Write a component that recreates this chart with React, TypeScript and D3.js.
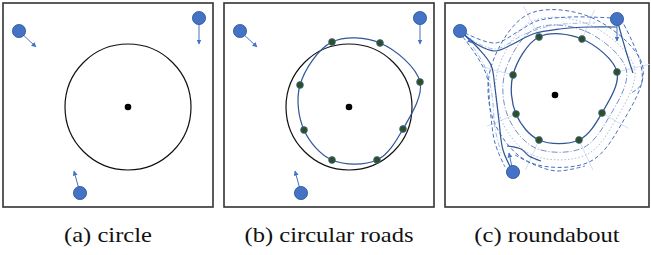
import React from "react";
import * as d3 from "d3";

type Pt = [number, number];

// panel layout (pixels of each framed sub-figure)
const panelLeft = [3, 224, 445];
const panelWidth = [210, 210, 204];
const captions = ["(a) circle", "(b) circular roads", "(c) roundabout"];

// local coordinates inside each frame (0..210 x 0..204)
const agentsAB: Pt[] = [[16, 28], [196, 15], [77, 190]];
const headingsAB: Pt[] = [[33, 44], [196, 41], [71, 168]];
const circleCenter: Pt = [125, 104];
const circleRadius = 63;

const roadNodesB: Pt[] = [
  [108, 39], [156, 40], [196, 79], [179, 126], [153, 157], [108, 157], [80, 127], [76, 82],
];

const centerC: Pt = [110, 92];
const roadNodesC: Pt[] = [
  [94, 34], [137, 36], [172, 69], [157, 110], [134, 137], [94, 137], [71, 111], [68, 72],
];
const agentsC: Pt[] = [[15, 28], [172, 16], [68, 169]];
const headingsC: Pt[] = [[27, 40], [172, 38], [64, 150]];

// roads joining the agents to the ring in (c)
const roadsSolidC: Pt[][] = [
  [[15, 28], [33, 42], [50, 48], [68, 41], [88, 31], [115, 26], [145, 24], [172, 24]],
  [[15, 28], [33, 45], [46, 62], [50, 85], [54, 118], [58, 147], [68, 169]],
  [[172, 16], [178, 38], [184, 58], [188, 70]],
  [[62, 143], [76, 146], [84, 153], [96, 158]],
];
const roadsDashedC: Pt[][] = [
  [[20, 30], [50, 40], [74, 28], [92, 18], [125, 14], [168, 15]],
  [[18, 34], [33, 55], [42, 74], [45, 105], [50, 140], [60, 164]],
  [[176, 16], [187, 38], [196, 62], [196, 82], [186, 90]],
  [[70, 152], [90, 162], [112, 168], [140, 163]],
];
const roadsDotDashC: Pt[][] = [
  [[25, 36], [50, 46], [80, 31], [110, 22], [150, 20]],
  [[28, 44], [40, 64], [47, 92], [50, 125], [56, 150]],
];
// lane offsets around the ring in (c)
const laneOffsets = [8, 15, 22];
const laneDash = ["6 2 1 2", "1.5 2", "4 2.5"];
const laneColor = ["#6f8fcf", "#a8bde3", "#4a6fb8"];

const BLUE = "#4472C4";
const BLUE_DARK = "#2F5597";
const GREEN = "#2f4f23";

// offset a clockwise closed polygon outward by d (miter at the vertices)
function offsetRing(pts: Pt[], d: number): Pt[] {
  const n = pts.length;
  const normal = (a: Pt, b: Pt): Pt => {
    const dx = b[0] - a[0];
    const dy = b[1] - a[1];
    const l = Math.hypot(dx, dy);
    return [dy / l, -dx / l];
  };
  return pts.map((p, k) => {
    const n1 = normal(pts[(k - 1 + n) % n], p);
    const n2 = normal(p, pts[(k + 1) % n]);
    let bx = n1[0] + n2[0];
    let by = n1[1] + n2[1];
    const bl = Math.hypot(bx, by);
    bx /= bl;
    by /= bl;
    const m = d / Math.max(0.5, bx * n1[0] + by * n1[1]);
    return [p[0] + bx * m, p[1] + by * m] as Pt;
  });
}

function Panel({ i }: { i: number }) {
  const left = panelLeft[i];
  const w = panelWidth[i];
  const x = d3.scaleLinear().domain([0, w]).range([left, left + w]);
  const y = d3.scaleLinear().domain([0, 204]).range([3, 207]);
  const open = d3.line<Pt>().x((d) => x(d[0])).y((d) => y(d[1])).curve(d3.curveCatmullRom);
  const closed = d3.line<Pt>().x((d) => x(d[0])).y((d) => y(d[1])).curve(d3.curveCatmullRomClosed);
  const agents = i === 2 ? agentsC : agentsAB;
  const headings = i === 2 ? headingsC : headingsAB;
  const spokeIn = offsetRing(roadNodesC, -4);
  const spokeOut = offsetRing(roadNodesC, 30);

  return (
    <g>
      <rect x={x(0)} y={y(0)} width={x(w) - x(0)} height={y(204) - y(0)} fill="#fff" stroke="#333" strokeWidth={1.6} />
      {i < 2 && (
        <circle cx={x(circleCenter[0])} cy={y(circleCenter[1])} r={circleRadius} fill="none" stroke="#111" strokeWidth={1.2} />
      )}
      {i === 1 && (
        <path d={closed(roadNodesB) ?? ""} fill="none" stroke={BLUE_DARK} strokeWidth={1.2} />
      )}
      {i === 2 && (
        <g fill="none">
          {roadNodesC.map((_, k) => (
            <line key={"s" + k} x1={x(spokeIn[k][0])} y1={y(spokeIn[k][1])} x2={x(spokeOut[k][0])} y2={y(spokeOut[k][1])} stroke="#c8d5ee" strokeWidth={0.8} />
          ))}
          {laneOffsets.map((o, k) => (
            <path key={"l" + k} d={closed(offsetRing(roadNodesC, o)) ?? ""} stroke={laneColor[k]} strokeWidth={1} strokeDasharray={laneDash[k]} />
          ))}
          {roadsDotDashC.map((r, k) => (
            <path key={"dd" + k} d={open(r) ?? ""} stroke="#9ab0dd" strokeWidth={0.9} strokeDasharray="5 2 1 2" />
          ))}
          {roadsDashedC.map((r, k) => (
            <path key={"d" + k} d={open(r) ?? ""} stroke={BLUE} strokeWidth={1} strokeDasharray="4 2.5" />
          ))}
          {roadsSolidC.map((r, k) => (
            <path key={"r" + k} d={open(r) ?? ""} stroke={BLUE_DARK} strokeWidth={1.2} />
          ))}
          <path d={closed(roadNodesC) ?? ""} stroke={BLUE_DARK} strokeWidth={1.3} />
        </g>
      )}
      <circle cx={x(i === 2 ? centerC[0] : circleCenter[0])} cy={y(i === 2 ? centerC[1] : circleCenter[1])} r={3.3} fill="#000" />
      {(i === 1 ? roadNodesB : i === 2 ? roadNodesC : []).map((p, k) => (
        <circle key={"n" + k} cx={x(p[0])} cy={y(p[1])} r={3.4} fill={GREEN} stroke="#3f6a9a" strokeWidth={0.8} />
      ))}
      {agents.map((p, k) => (
        <g key={"a" + k}>
          <line x1={x(p[0])} y1={y(p[1])} x2={x(headings[k][0])} y2={y(headings[k][1])} stroke={BLUE} strokeWidth={1} markerEnd="url(#arrow)" />
          <circle cx={x(p[0])} cy={y(p[1])} r={6.6} fill={BLUE} stroke={BLUE_DARK} strokeWidth={0.8} />
        </g>
      ))}
      <text
        transform={`translate(${x(w / 2)},242) scale(1.17,1)`}
        textAnchor="middle"
        fontFamily="Liberation Serif, Times New Roman, Times, serif"
        fontSize={21}
        fill="#111"
      >
        {captions[i]}
      </text>
    </g>
  );
}

export default function App() {
  return (
    <svg width={651} height={255} style={{ position: "absolute", left: 0, top: 0, background: "#fff" }}>
      <defs>
        <marker id="arrow" viewBox="0 0 10 10" refX={9} refY={5} markerWidth={5} markerHeight={5} orient="auto">
          <path d="M0,0 L10,5 L0,10 z" fill={BLUE} />
        </marker>
      </defs>
      {panelLeft.map((_, i) => (
        <Panel key={i} i={i} />
      ))}
    </svg>
  );
}
